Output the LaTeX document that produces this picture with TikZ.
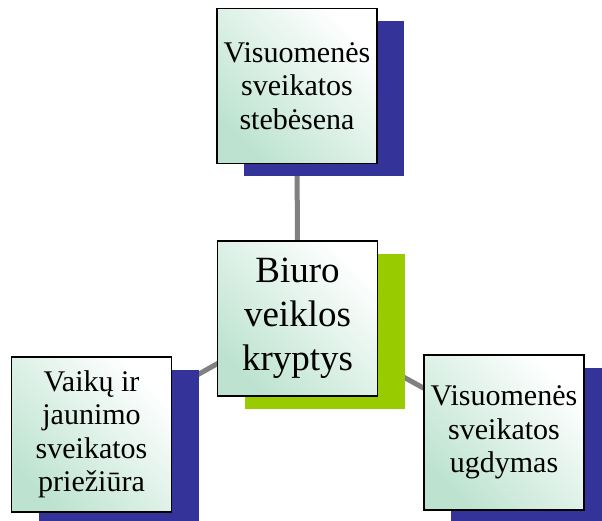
\documentclass[tikz,border=0pt]{standalone}
\usepackage{fontspec}
\setmainfont{Liberation Serif}
\usetikzlibrary{shadows,backgrounds}
\definecolor{boxgreen}{HTML}{BDE3D0}
\definecolor{shblue}{HTML}{333399}
\definecolor{shlime}{HTML}{99CC00}
\definecolor{linkgray}{HTML}{808080}
\tikzset{
  box/.style={draw=black, line width=1.5pt, minimum width=160pt, minimum height=155pt,
    inner sep=0pt, align=center, top color=white, bottom color=boxgreen,
    shading angle=-45, font=\fontsize{30}{33.5}\selectfont},
  blueshadow/.style={general shadow={fill=shblue, shadow xshift=27pt, shadow yshift=-13pt}},
  limeshadow/.style={general shadow={fill=shlime, shadow xshift=27pt, shadow yshift=-13pt}},
  link/.style={draw=linkgray, line width=5pt}
}
\begin{document}
\begin{tikzpicture}[x=1pt,y=1pt]
\useasboundingbox (0,0) rectangle (602,520);
\clip (0,0) rectangle (602,520);
\node[box, blueshadow] (t) at (297,434) {Visuomenės\\sveikatos\\stebėsena};
\node[box, limeshadow, font=\fontsize{37}{44}\selectfont] (c) at (297.5,201.5) {Biuro\\veiklos\\kryptys};
\node[box, blueshadow] (l) at (91.5,85.5) {Vaikų ir\\jaunimo\\sveikatos\\priežiūra};
\node[box, blueshadow] (r) at (504,87.5) {Visuomenės\\sveikatos\\ugdymas};
\begin{scope}[on background layer]
  \draw[link] (c.center) -- (t.center);
  \draw[link] (c.center) -- (l.center);
  \draw[link] (c.center) -- (r.center);
\end{scope}
\end{tikzpicture}
\end{document}
